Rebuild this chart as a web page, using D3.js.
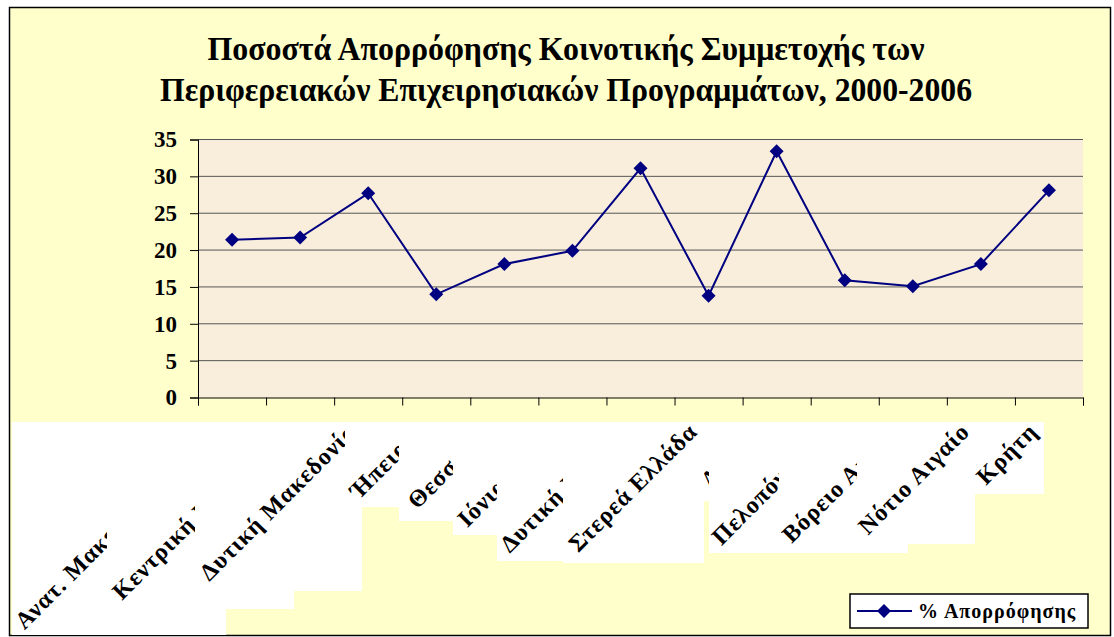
<!DOCTYPE html>
<html>
<head>
<meta charset="utf-8">
<script src="https://cdn.jsdelivr.net/npm/d3@7"></script>
<style>
  body { margin: 0; background: #fff; }
  text { font-family: "Liberation Serif", "Times New Roman", serif; font-weight: bold; }
</style>
</head>
<body>
<div id="chart"></div>
<script>
// data
var regions = ["Ανατ. Μακεδονία-Θράκη", "Κεντρική Μακεδονία", "Δυτική Μακεδονία", "Ήπειρος",
  "Θεσσαλία", "Ιόνια Νησιά", "Δυτική Ελλάδα", "Στερεά Ελλάδα", "Αττική",
  "Πελοπόννησος", "Βόρειο Αιγαίο", "Νότιο Αιγαίο", "Κρήτη"];
var absorption = [21.4, 21.7, 27.7, 14.0, 18.1, 19.9, 31.1, 13.8, 33.4, 15.9, 15.1, 18.1, 28.1];
var yTicks = [0, 5, 10, 15, 20, 25, 30, 35];
var seriesName = "% Απορρόφησης";
var titleLines = ["Ποσοστά Απορρόφησης Κοινοτικής Συμμετοχής των",
  "Περιφερειακών Επιχειρησιακών Προγραμμάτων, 2000-2006"];

// layout of the (oddly clipped) label boxes under the axis
var labelTop = 422;
var bgSteps = [[12,226,635],[226,294,609],[294,362,591],[362,399,507],[399,453,521],
  [453,497,535],[497,563,561],[563,704,563],[704,709,501],[709,908,553],[908,975,544],[975,1044,494]];
var clipRight = [107,195,345,399,453,497,563,704,709,779,857,975,1044];

var W = 1114, H = 637;
var plot = {left: 198, right: 1083, top: 139.5, bottom: 397.5};
var navy = "#000080";

var svg = d3.select("#chart").append("svg").attr("width", W).attr("height", H);

// frame
svg.append("rect").attr("x", 9.5).attr("y", 7.5).attr("width", 1101).attr("height", 628)
  .attr("fill", "#FFFFCC").attr("stroke", "#000").attr("stroke-width", 1.5);

// title
var titleY = [60, 101], titleW = [717, 812];
svg.selectAll("text.title").data(titleLines).enter().append("text")
  .attr("class", "title")
  .attr("x", 566).attr("y", function(d, i) { return titleY[i]; })
  .attr("text-anchor", "middle")
  .attr("font-size", 33)
  .attr("textLength", function(d, i) { return titleW[i]; })
  .attr("lengthAdjust", "spacingAndGlyphs")
  .text(function(d) { return d; });

// scales
var x = d3.scaleBand().domain(regions).range([plot.left, plot.right]).padding(0);
var xb = d3.scaleLinear().domain([0, regions.length]).range([plot.left, plot.right]);
var y = d3.scaleLinear().domain([0, 35]).range([plot.bottom, plot.top]);

// plot background
svg.append("rect").attr("x", plot.left).attr("y", plot.top)
  .attr("width", plot.right - plot.left).attr("height", plot.bottom - plot.top)
  .attr("fill", "#F9EEDB");

// gridlines
svg.append("g").selectAll("line").data(yTicks.filter(function(d) { return d > 0; }))
  .enter().append("line")
  .attr("x1", plot.left).attr("x2", plot.right)
  .attr("y1", function(d) { return y(d); }).attr("y2", function(d) { return y(d); })
  .attr("stroke", "#555").attr("stroke-width", 1);

// axes
var yAxis = d3.axisLeft(y).tickValues(yTicks).tickSize(8).tickPadding(13).tickFormat(d3.format("d"));
var gy = svg.append("g").attr("transform", "translate(" + plot.left + ",0)").call(yAxis);
gy.selectAll("text").attr("font-size", 23).attr("fill", "#000")
  .style("font-family", "'Liberation Serif', 'Times New Roman', serif").style("font-weight", "bold");
gy.select(".domain").attr("stroke", "#000");

var xAxis = d3.axisBottom(xb).tickValues(d3.range(regions.length + 1)).tickSize(8).tickSizeOuter(8).tickFormat("");
var gx = svg.append("g").attr("transform", "translate(0," + plot.bottom + ")").call(xAxis);
gx.select(".domain").attr("stroke", "#000");

// label boxes
svg.append("g").selectAll("rect").data(bgSteps).enter().append("rect")
  .attr("x", function(d) { return d[0]; }).attr("y", labelTop)
  .attr("width", function(d) { return d[1] - d[0]; })
  .attr("height", function(d) { return d[2] - labelTop; })
  .attr("fill", "#fff");

var defs = svg.append("defs");
defs.selectAll("clipPath").data(regions).enter().append("clipPath")
  .attr("id", function(d, i) { return "lab" + i; })
  .append("rect")
  .attr("x", function(d, i) { return i === 0 ? 12 : clipRight[i - 1]; })
  .attr("y", labelTop)
  .attr("width", function(d, i) { return clipRight[i] - (i === 0 ? 12 : clipRight[i - 1]); })
  .attr("height", 213);

svg.append("g").selectAll("g").data(regions).enter().append("g")
  .attr("clip-path", function(d, i) { return "url(#lab" + i + ")"; })
  .append("text")
  .attr("transform", function(d) {
    return "translate(" + (x(d) + x.bandwidth() / 2 - 10) + ",433) rotate(-45)";
  })
  .attr("text-anchor", "end")
  .attr("font-size", 24)
  .attr("letter-spacing", 1)
  .text(function(d) { return d; });

// line + markers
var line = d3.line()
  .x(function(d, i) { return x(regions[i]) + x.bandwidth() / 2; })
  .y(function(d) { return y(d); });
svg.append("path").datum(absorption).attr("d", line)
  .attr("fill", "none").attr("stroke", navy).attr("stroke-width", 2);

var diamond = d3.symbol(d3.symbolSquare, 98);
svg.append("g").selectAll("path").data(absorption).enter().append("path")
  .attr("d", diamond)
  .attr("transform", function(d, i) {
    return "translate(" + (x(regions[i]) + x.bandwidth() / 2) + "," + y(d) + ") rotate(45)";
  })
  .attr("fill", navy);

// legend
var lg = svg.append("g").attr("transform", "translate(850,594)");
lg.append("rect").attr("width", 238).attr("height", 34).attr("fill", "#fff")
  .attr("stroke", "#000").attr("stroke-width", 1.5);
lg.append("line").attr("x1", 7).attr("x2", 62).attr("y1", 17).attr("y2", 17)
  .attr("stroke", navy).attr("stroke-width", 2);
lg.append("path").attr("d", diamond).attr("transform", "translate(34,17) rotate(45)").attr("fill", navy);
lg.append("text").attr("x", 68).attr("y", 24).attr("font-size", 20).attr("letter-spacing", 1).text(seriesName);
</script>
</body>
</html>
